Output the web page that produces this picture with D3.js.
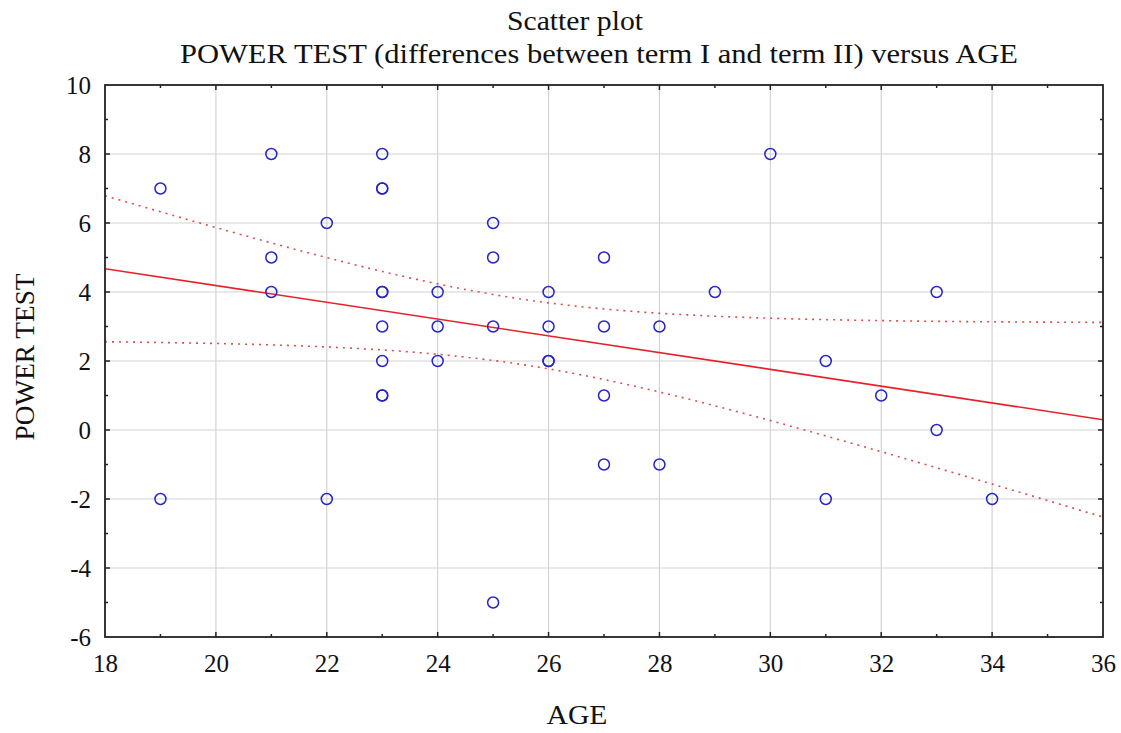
<!DOCTYPE html>
<html>
<head>
<meta charset="utf-8">
<script src="https://cdn.jsdelivr.net/npm/d3@7"></script>
<style>
  body { margin: 0; background: #fff; }
  text { font-family: "Liberation Serif", "Times New Roman", serif; fill: #111; }
</style>
</head>
<body>
<svg width="1121" height="733"></svg>
<script>
// AGE and POWER TEST difference, one entry per subject
const ages  = [19, 19, 21, 21, 21, 22, 22, 23, 23, 23, 23, 23, 23, 23, 23, 23,
               24, 24, 24, 25, 25, 25, 25, 26, 26, 26, 26, 27, 27, 27, 27,
               28, 28, 29, 30, 31, 31, 32, 33, 33, 34]
const power = [7, -2, 8, 5, 4, 6, -2, 8, 7, 7, 4, 4, 3, 2, 1, 1,
               4, 3, 2, 6, 5, 3, -5, 4, 3, 2, 2, 5, 3, 1, -1,
               3, -1, 4, 8, 2, -2, 1, 4, 0, -2]

const xTicks = [18, 20, 22, 24, 26, 28, 30, 32, 34, 36]
const yTicks = [-6, -4, -2, 0, 2, 4, 6, 8, 10]

const data = ages.map((a, i) => ({ x: a, y: power[i] }))

const svg = d3.select('svg')
const pLeft = 105, pRight = 1103, pTop = 85, pBottom = 637

const x = d3.scaleLinear().domain([18, 36]).range([pLeft, pRight])
const y = d3.scaleLinear().domain([-6, 10]).range([pBottom, pTop])

// grid
svg.append('g')
  .selectAll('line')
  .data(xTicks.slice(1, -1))
  .enter().append('line')
    .attr('x1', d => x(d)).attr('x2', d => x(d))
    .attr('y1', pTop).attr('y2', pBottom)
    .attr('stroke', '#d4d4d4').attr('stroke-width', 1.2)
svg.append('g')
  .selectAll('line')
  .data(yTicks.slice(1, -1))
  .enter().append('line')
    .attr('y1', d => y(d)).attr('y2', d => y(d))
    .attr('x1', pLeft).attr('x2', pRight)
    .attr('stroke', '#d4d4d4').attr('stroke-width', 1.2)

// linear fit with 95% confidence band
const n = data.length
const mx = d3.mean(data, d => d.x)
const my = d3.mean(data, d => d.y)
const sxx = d3.sum(data, d => (d.x - mx) ** 2)
const sxy = d3.sum(data, d => (d.x - mx) * (d.y - my))
const b = sxy / sxx
const a = my - b * mx
const s = Math.sqrt(d3.sum(data, d => (d.y - a - b * d.x) ** 2) / (n - 2))
const t = 2.0227
const xs = d3.range(18, 36.01, 0.25)
const band = k => xs.map(v => [v, a + b * v + k * t * s * Math.sqrt(1 / n + (v - mx) ** 2 / sxx)])

const line = d3.line().x(d => x(d[0])).y(d => y(d[1]))
svg.append('clipPath').attr('id', 'plot')
  .append('rect').attr('x', pLeft).attr('y', pTop)
  .attr('width', pRight - pLeft).attr('height', pBottom - pTop)

const fits = svg.append('g').attr('clip-path', 'url(#plot)')
fits.append('path')
    .attr('d', line(band(1)))
    .attr('fill', 'none').attr('stroke', '#d8504a')
    .attr('stroke-width', 1.6).attr('stroke-dasharray', '2,5')
fits.append('path')
    .attr('d', line(band(-1)))
    .attr('fill', 'none').attr('stroke', '#d8504a')
    .attr('stroke-width', 1.6).attr('stroke-dasharray', '2,5')
fits.append('path')
    .attr('d', line([[18, a + b * 18], [36, a + b * 36]]))
    .attr('fill', 'none').attr('stroke', '#e8202a').attr('stroke-width', 1.6)

// points
svg.append('g')
  .selectAll('circle')
  .data(data)
  .enter()
  .append('circle')
    .attr('cx', d => x(d.x))
    .attr('cy', d => y(d.y))
    .attr('r', 5.5)
    .attr('fill', 'none')
    .attr('stroke', '#2626c8')
    .attr('stroke-width', 1.5)

// axes
const xAxis = d3.axisBottom(x).tickValues(xTicks).tickSize(0).tickPadding(17)
                .tickFormat(d => String(d))
const yAxis = d3.axisLeft(y).tickValues(yTicks).tickSize(0).tickPadding(14)
                .tickFormat(d => String(d))

svg.append('g')
    .attr('transform', `translate(0, ${pBottom})`)
    .call(xAxis)
    .call(g => g.select('.domain').remove())
    .selectAll('text').style('font-size', '25px')

svg.append('g')
    .attr('transform', `translate(${pLeft}, 0)`)
    .call(yAxis)
    .call(g => g.select('.domain').remove())
    .selectAll('text').style('font-size', '25px').attr('dy', '0.35em')

// inner tick marks, major and minor
const tickG = svg.append('g').attr('stroke', '#222').attr('stroke-width', 1.5)
d3.range(19, 36).forEach(v => {
  const len = v % 2 === 0 ? 5 : 3
  tickG.append('line').attr('x1', x(v)).attr('x2', x(v)).attr('y1', pBottom).attr('y2', pBottom - len)
  tickG.append('line').attr('x1', x(v)).attr('x2', x(v)).attr('y1', pTop).attr('y2', pTop + len)
})
d3.range(-5, 10).forEach(v => {
  const len = v % 2 === 0 ? 5 : 3
  tickG.append('line').attr('y1', y(v)).attr('y2', y(v)).attr('x1', pLeft).attr('x2', pLeft + len)
  tickG.append('line').attr('y1', y(v)).attr('y2', y(v)).attr('x1', pRight).attr('x2', pRight - len)
})

svg.append('rect')
    .attr('x', pLeft).attr('y', pTop)
    .attr('width', pRight - pLeft).attr('height', pBottom - pTop)
    .attr('fill', 'none').attr('stroke', '#222').attr('stroke-width', 1.8)

// titles
svg.append('text')
    .attr('x', 575).attr('y', 30)
    .style('text-anchor', 'middle').style('font-size', '27px')
    .attr('textLength', 136).attr('lengthAdjust', 'spacingAndGlyphs')
    .text('Scatter plot')
svg.append('text')
    .attr('x', 599).attr('y', 63)
    .style('text-anchor', 'middle').style('font-size', '27px')
    .attr('textLength', 838).attr('lengthAdjust', 'spacingAndGlyphs')
    .text('POWER TEST (differences between term I and term II) versus AGE')

// y-axis label
svg.append('text')
    .attr('transform', 'rotate(-90)')
    .attr('x', -357).attr('y', 34)
    .style('text-anchor', 'middle').style('font-size', '28px')
    .attr('textLength', 167).attr('lengthAdjust', 'spacingAndGlyphs')
    .text('POWER TEST')

// x-axis label
svg.append('text')
    .attr('x', 577).attr('y', 724)
    .style('text-anchor', 'middle').style('font-size', '28px')
    .attr('textLength', 61).attr('lengthAdjust', 'spacingAndGlyphs')
    .text('AGE')
</script>
</body>
</html>
